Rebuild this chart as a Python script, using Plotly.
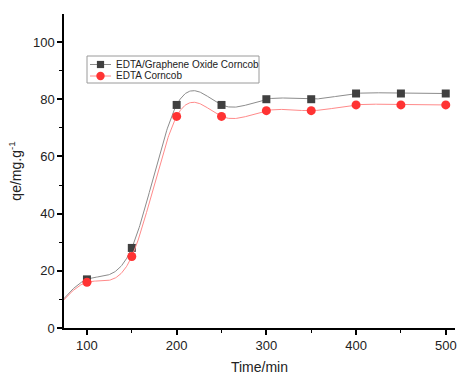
import numpy as np
import plotly.graph_objects as go

# data (the first point at t=50 lies left of the visible axis range; only the curve shows it)
time_min = [50, 100, 150, 200, 250, 300, 350, 400, 450, 500]
qe_go_corncob = [0, 17, 28, 78, 78, 80, 80, 82, 82, 82]
qe_corncob = [0, 16, 25, 74, 74, 76, 76, 78, 78, 78]
names = ["EDTA/Graphene Oxide Corncob", "EDTA Corncob"]
x_ticks = [100, 200, 300, 400, 500]
y_ticks = [0, 20, 40, 60, 80, 100]


def natural_spline(x, y, xs):
    x = np.asarray(x, float)
    y = np.asarray(y, float)
    n = len(x)
    h = np.diff(x)
    A = np.zeros((n, n))
    b = np.zeros(n)
    A[0, 0] = 1
    A[-1, -1] = 1
    for i in range(1, n - 1):
        A[i, i - 1] = h[i - 1]
        A[i, i] = 2 * (h[i - 1] + h[i])
        A[i, i + 1] = h[i]
        b[i] = 3 * ((y[i + 1] - y[i]) / h[i] - (y[i] - y[i - 1]) / h[i - 1])
    c = np.linalg.solve(A, b)
    bb = (y[1:] - y[:-1]) / h - h * (2 * c[:-1] + c[1:]) / 3
    d = (c[1:] - c[:-1]) / (3 * h)
    idx = np.clip(np.searchsorted(x, xs) - 1, 0, n - 2)
    dx = xs - x[idx]
    return y[idx] + bb[idx] * dx + c[idx] * dx ** 2 + d[idx] * dx ** 3


X0, X1, Y0, Y1 = 74.4, 510.3, 0, 109.8
xs = np.linspace(min(time_min), max(time_min), 600)

styles = [
    dict(line="#8c8c8c", marker="#404040", symbol="square", size=8),
    dict(line="#ff8a8a", marker="#ff3333", symbol="circle", size=9),
]

fig = go.Figure()
for ys, name, st in zip([qe_go_corncob, qe_corncob], names, styles):
    fig.add_trace(go.Scatter(x=xs, y=natural_spline(time_min, ys, xs), mode="lines",
                             line=dict(color=st["line"], width=1), showlegend=False,
                             hoverinfo="skip"))
    fig.add_trace(go.Scatter(x=time_min, y=ys, mode="markers", name=name,
                             marker=dict(color=st["marker"], symbol=st["symbol"], size=st["size"]),
                             showlegend=False))

FW, FH = 457, 376
L, T, W, H = 64, 14, 391, 314


def px(x):  # window pixel -> paper
    return (x - L) / W


def py(y):
    return (T + H - y) / H


shapes = [dict(type="rect", xref="paper", yref="paper", x0=px(87), x1=px(259), y0=py(83), y1=py(56),
               line=dict(color="#9a9a9a", width=1), fillcolor="white", layer="above")]
annotations = []
for i, (name, st) in enumerate(zip(names, styles)):
    yc = 64.5 + i * 11.5
    shapes.append(dict(type="line", xref="paper", yref="paper", x0=px(90), x1=px(111),
                       y0=py(yc), y1=py(yc), line=dict(color=st["line"], width=1), layer="above"))
    r = 3.6 if st["symbol"] == "square" else 4.2
    shapes.append(dict(type="rect" if st["symbol"] == "square" else "circle",
                       xref="paper", yref="paper", x0=px(100.5 - r), x1=px(100.5 + r),
                       y0=py(yc + r), y1=py(yc - r), line=dict(width=0),
                       fillcolor=st["marker"], layer="above"))
    annotations.append(dict(text=name, xref="paper", yref="paper", x=px(114), y=py(yc),
                            xanchor="left", yanchor="middle", showarrow=False,
                            font=dict(size=10, color="#222")))

axis_common = dict(showline=True, linecolor="black", linewidth=1.5, ticks="outside",
                   ticklen=5, tickwidth=1.5, tickcolor="black", showgrid=False, zeroline=False,
                   mirror=False, automargin=False, tickfont=dict(size=13, color="#222"))
fig.update_xaxes(range=[X0, X1], tickvals=x_ticks,
                 minor=dict(tickvals=[150, 250, 350, 450], ticks="outside", ticklen=3,
                            tickwidth=1.2, tickcolor="black"),
                 title=dict(text="Time/min", font=dict(size=14, color="#222"), standoff=10),
                 **axis_common)
fig.update_yaxes(range=[Y0, Y1], tickvals=y_ticks,
                 minor=dict(tickvals=[10, 30, 50, 70, 90], ticks="outside", ticklen=3,
                            tickwidth=1.2, tickcolor="black"),
                 title=dict(text="qe/mg.g<sup>-1</sup>", font=dict(size=14, color="#222"), standoff=8),
                 **axis_common)
fig.update_layout(
    width=FW, height=FH,
    margin=dict(l=L, r=FW - L - W, t=T, b=FH - T - H),
    paper_bgcolor="white", plot_bgcolor="white",
    font=dict(family="Liberation Sans, Arial, sans-serif", color="#222"),
    showlegend=False, shapes=shapes, annotations=annotations,
)
fig.write_html("out.html", config={"displayModeBar": False},
               post_script="document.body.style.margin='0';document.body.style.overflow='hidden';")
